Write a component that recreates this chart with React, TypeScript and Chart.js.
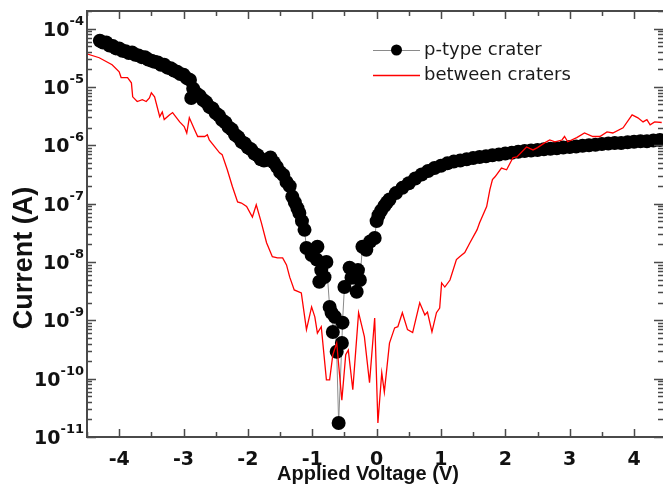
import React, { useEffect, useRef } from "react";
import { Chart, registerables } from "chart.js";

Chart.register(...registerables);

// ---- data ----
const xTickValues = [-4, -3, -2, -1, 0, 1, 2, 3, 4];
const yTickExponents = [-11, -10, -9, -8, -7, -6, -5, -4];
const legendLabels = ["p-type crater", "between craters"];
const xTitle = "Applied Voltage (V)";
const yTitle = "Current (A)";

// p-type crater: voltage (V) and log10 of current (A)
const pVoltage = [
  -4.3, -4.25, -4.2, -4.15, -4.1, -4.05, -4.0, -3.95, -3.9, -3.85, -3.8, -3.75, -3.7, -3.65, -3.6, -3.55,
  -3.5, -3.45, -3.4, -3.35, -3.3, -3.25, -3.2, -3.15, -3.1, -3.05, -3.0, -2.95, -2.9, -2.88, -2.85, -2.8,
  -2.75, -2.7, -2.65, -2.6, -2.55, -2.5, -2.45, -2.4, -2.35, -2.3, -2.25, -2.2, -2.15, -2.1, -2.05, -2.0,
  -1.95, -1.9, -1.85, -1.8, -1.75, -1.7, -1.65, -1.6, -1.55, -1.5, -1.45, -1.4, -1.35, -1.31, -1.27, -1.23,
  -1.2, -1.16, -1.12, -1.09, -1.01, -0.93, -0.92, -0.89, -0.86, -0.81, -0.78, -0.73, -0.7, -0.68, -0.65,
  -0.62, -0.59, -0.54, -0.53, -0.5, -0.42, -0.39, -0.31, -0.29, -0.26, -0.22, -0.16, -0.1, -0.03, 0.0,
  0.03, 0.07, 0.12, 0.16, 0.2, 0.3, 0.4, 0.5, 0.6, 0.7, 0.8, 0.9, 1.0, 1.1, 1.2, 1.3, 1.4, 1.5, 1.6, 1.7,
  1.8, 1.9, 2.0, 2.1, 2.2, 2.3, 2.4, 2.5, 2.6, 2.7, 2.8, 2.9, 3.0, 3.1, 3.2, 3.3, 3.4, 3.5, 3.6, 3.7, 3.8,
  3.9, 4.0, 4.1, 4.2, 4.3, 4.4,
];
const pLogCurrent = [
  -4.21, -4.24, -4.24, -4.29, -4.3, -4.34, -4.34, -4.38, -4.39, -4.42, -4.41, -4.45, -4.46, -4.49, -4.49, -4.53,
  -4.55, -4.57, -4.58, -4.62, -4.62, -4.67, -4.68, -4.72, -4.74, -4.78, -4.79, -4.85, -4.88, -5.19, -5.03, -5.11,
  -5.15, -5.22, -5.26, -5.34, -5.37, -5.45, -5.49, -5.57, -5.61, -5.69, -5.73, -5.82, -5.86, -5.94, -5.97, -6.04,
  -6.07, -6.14, -6.17, -6.24, -6.26, -6.25, -6.21, -6.29, -6.37, -6.46, -6.51, -6.63, -6.7, -6.88, -6.98, -7.08,
  -7.16, -7.3, -7.45, -7.76, -7.88, -7.96, -7.74, -8.34, -8.14, -8.26, -8.0, -8.77, -8.87, -9.2, -8.94,
  -9.54, -10.76, -9.39, -9.04, -8.43, -8.1, -8.27, -8.51, -8.14, -8.31, -7.74, -7.79, -7.65, -7.59, -7.3,
  -7.2, -7.12, -7.04, -6.98, -6.93, -6.82, -6.73, -6.65, -6.57, -6.5, -6.44, -6.39, -6.35, -6.31, -6.28, -6.26, -6.24, -6.22, -6.2, -6.19,
  -6.17, -6.16, -6.14, -6.13, -6.11, -6.1, -6.09, -6.08, -6.07, -6.06, -6.05, -6.04, -6.03, -6.02, -6.01, -6.0, -5.99, -5.98, -5.97, -5.96, -5.96,
  -5.95, -5.94, -5.93, -5.93, -5.92, -5.91,
];

// between craters: voltage (V) and log10 of current (A)
const bVoltage = [
  -4.51, -4.31, -4.11, -4.0, -3.97, -3.87, -3.81, -3.79, -3.72, -3.64, -3.58, -3.53, -3.5, -3.45, -3.37, -3.33,
  -3.3, -3.22, -3.17, -3.06, -2.99, -2.95, -2.91, -2.83, -2.78, -2.67, -2.63, -2.6, -2.44, -2.4, -2.32, -2.24,
  -2.16, -2.1, -2.02, -1.93, -1.87, -1.79, -1.71, -1.62, -1.54, -1.46, -1.4, -1.35, -1.28, -1.17, -1.09, -1.01,
  -0.96, -0.92, -0.86, -0.78, -0.73, -0.68, -0.62, -0.54, -0.48, -0.44, -0.37, -0.28, -0.19, -0.11, -0.03, 0.02,
  0.08, 0.12, 0.2, 0.28, 0.33, 0.4, 0.48, 0.56, 0.67, 0.75, 0.79, 0.86, 0.93, 0.98, 1.01, 1.06, 1.14, 1.24,
  1.29, 1.37, 1.45, 1.56, 1.6, 1.71, 1.76, 1.8, 1.84, 1.94, 2.02, 2.12, 2.18, 2.33, 2.43, 2.5, 2.61, 2.69,
  2.77, 2.88, 2.92, 2.97, 3.11, 3.23, 3.36, 3.47, 3.58, 3.67, 3.83, 3.97, 4.06, 4.14, 4.2, 4.25, 4.32, 4.43,
];
const bLogCurrent = [
  -4.43, -4.5, -4.62, -4.74, -4.84, -4.84, -4.93, -5.17, -5.25, -5.22, -5.25, -5.19, -5.1, -5.17, -5.51, -5.43,
  -5.56, -5.48, -5.44, -5.6, -5.68, -5.79, -5.53, -5.73, -5.85, -5.85, -5.82, -5.91, -6.13, -6.16, -6.42, -6.71,
  -6.97, -6.99, -7.05, -7.23, -7.02, -7.33, -7.67, -7.91, -7.93, -7.93, -8.05, -8.26, -8.48, -8.53, -9.16, -8.77,
  -8.94, -9.22, -9.11, -10.02, -10.02, -9.59, -9.39, -10.37, -9.59, -9.51, -10.19, -8.87, -9.28, -10.07, -8.96, -10.76,
  -9.9, -10.23, -9.39, -9.13, -9.11, -8.87, -9.16, -9.21, -8.7, -8.91, -8.86, -9.2, -8.87, -8.79, -8.36, -8.43, -8.31, -7.96,
  -7.91, -7.84, -7.67, -7.45, -7.33, -7.05, -6.76, -6.59, -6.54, -6.39, -6.42, -6.21, -6.2, -6.03, -6.08, -6.04, -5.96, -5.91,
  -5.94, -5.91, -5.85, -5.94, -5.87, -5.79, -5.85, -5.85, -5.77, -5.79, -5.7, -5.48, -5.53, -5.6, -5.56, -5.65, -5.6, -5.61,
];

const AXIS_COLOR = "#4a4a4a";
const TEXT_COLOR = "#111111";

const framePlugin = {
  id: "frameTicks",
  afterDatasetsDraw(chart: any) {
    const { ctx, chartArea: a, scales } = chart;
    const xs = scales.x;
    const ys = scales.y;
    ctx.save();
    ctx.strokeStyle = AXIS_COLOR;
    ctx.lineWidth = 1.5;
    ctx.beginPath();
    for (let i = -9; i <= 9; i++) {
      const v = i * 0.5;
      const px = Math.round(xs.getPixelForValue(v)) + 0.5;
      if (px < a.left || px > a.right) continue;
      const len = i % 2 === 0 ? 8 : 5;
      ctx.moveTo(px, a.bottom);
      ctx.lineTo(px, a.bottom - len);
      ctx.moveTo(px, a.top);
      ctx.lineTo(px, a.top + len);
    }
    for (const e of yTickExponents) {
      for (let m = 1; m <= 9; m++) {
        const val = m * Math.pow(10, e);
        if (val > ys.max) break;
        const py = Math.round(ys.getPixelForValue(val)) + 0.5;
        const len = m === 1 ? 9 : 5;
        ctx.moveTo(a.left, py);
        ctx.lineTo(a.left + len, py);
        ctx.moveTo(a.right, py);
        ctx.lineTo(a.right - len, py);
      }
    }
    ctx.stroke();
    // frame: left, top and bottom axis lines (the right one lies at the picture's edge)
    ctx.lineWidth = 2;
    ctx.beginPath();
    ctx.moveTo(a.right, a.top);
    ctx.lineTo(a.left, a.top);
    ctx.lineTo(a.left, a.bottom);
    ctx.lineTo(a.right, a.bottom);
    ctx.stroke();
    ctx.restore();
  },
};

const labelPlugin = {
  id: "labelsLegendTitles",
  afterDraw(chart: any) {
    const { ctx, scales } = chart;
    const ds = chart.data.datasets;
    const ys = scales.y;
    ctx.save();

    // y tick labels: 10 with a raised exponent, right-aligned
    ctx.fillStyle = TEXT_COLOR;
    ctx.textAlign = "left";
    ctx.textBaseline = "alphabetic";
    for (const t of ys.ticks) {
      const py = ys.getPixelForValue(t.value);
      const expStr = String(Math.round(Math.log10(t.value)));
      ctx.font = 'bold 13px "DejaVu Sans"';
      const ew = ctx.measureText(expStr).width;
      ctx.font = 'bold 19px "DejaVu Sans"';
      const bw = ctx.measureText("10").width;
      const right = 84;
      ctx.fillText("10", right - ew - bw, py + 7);
      ctx.font = 'bold 13px "DejaVu Sans"';
      ctx.fillText(expStr, right - ew, py - 4);
    }

    // legend
    const x0 = 373;
    const x1 = 420;
    const rows = [50, 75];
    ctx.strokeStyle = ds[0].borderColor;
    ctx.lineWidth = 1;
    ctx.beginPath();
    ctx.moveTo(x0, rows[0] + 0.5);
    ctx.lineTo(x1, rows[0] + 0.5);
    ctx.stroke();
    ctx.fillStyle = ds[0].pointBackgroundColor;
    ctx.beginPath();
    ctx.arc((x0 + x1) / 2, rows[0], 5.5, 0, Math.PI * 2);
    ctx.fill();
    ctx.strokeStyle = ds[1].borderColor;
    ctx.lineWidth = 1.3;
    ctx.beginPath();
    ctx.moveTo(x0, rows[1] + 0.5);
    ctx.lineTo(x1, rows[1] + 0.5);
    ctx.stroke();
    ctx.fillStyle = "#1a1a1a";
    ctx.font = '18px "DejaVu Sans"';
    ctx.textBaseline = "middle";
    ctx.textAlign = "left";
    ctx.fillText(ds[0].label, 424, rows[0]);
    ctx.fillText(ds[1].label, 424, rows[1]);

    // x axis title
    ctx.fillStyle = TEXT_COLOR;
    ctx.font = 'bold 20px "Liberation Sans"';
    ctx.textAlign = "center";
    ctx.fillText(xTitle, 368, 474);

    // y axis title
    ctx.translate(25, 258);
    ctx.rotate(-Math.PI / 2);
    ctx.font = 'bold 27px "Liberation Sans"';
    ctx.textAlign = "center";
    ctx.fillText(yTitle, 0, 0);
    ctx.restore();
  },
};

export default function App() {
  const ref = useRef<HTMLCanvasElement | null>(null);

  useEffect(() => {
    if (!ref.current) return;
    const chart = new Chart(ref.current, {
      type: "line",
      data: {
        datasets: [
          {
            label: legendLabels[0],
            data: pVoltage.map((v, i) => ({ x: v, y: Math.pow(10, pLogCurrent[i]) })),
            borderColor: "#8a8a8a",
            borderWidth: 1,
            pointRadius: 7,
            pointBackgroundColor: "#000000",
            pointBorderColor: "#000000",
            pointBorderWidth: 0,
            pointHoverRadius: 7,
            tension: 0,
            order: 1,
          },
          {
            label: legendLabels[1],
            data: bVoltage.map((v, i) => ({ x: v, y: Math.pow(10, bLogCurrent[i]) })),
            borderColor: "#ff0000",
            borderWidth: 1.3,
            pointRadius: 0,
            tension: 0,
            order: 0,
          },
        ],
      },
      options: {
        animation: false,
        responsive: false,
        events: [],
        layout: { autoPadding: false, padding: { top: 11, right: 0, left: 0, bottom: 0 } },
        plugins: { legend: { display: false }, tooltip: { enabled: false } },
        scales: {
          x: {
            type: "linear",
            min: -4.5,
            max: 4.45,
            grid: { display: false, drawTicks: false },
            border: { display: false },
            afterBuildTicks: (s: any) => {
              s.ticks = xTickValues.map((v) => ({ value: v }));
            },
            afterFit: (s: any) => {
              s.height = 48;
              s.paddingLeft = 0;
              s.paddingRight = 0;
            },
            ticks: {
              autoSkip: false,
              maxRotation: 0,
              padding: 12,
              color: TEXT_COLOR,
              font: { family: '"DejaVu Sans"', size: 19, weight: "bold" },
              callback: (v: any) => String(v),
            },
            title: { display: false, text: xTitle },
          },
          y: {
            type: "logarithmic",
            min: 1e-11,
            max: 2e-4,
            grid: { display: false, drawTicks: false },
            border: { display: false },
            afterBuildTicks: (s: any) => {
              s.ticks = yTickExponents.map((e) => ({ value: Math.pow(10, e) }));
            },
            afterFit: (s: any) => {
              s.width = 87;
              s.paddingTop = 0;
              s.paddingBottom = 0;
            },
            ticks: { display: false },
            title: { display: false, text: yTitle },
          },
        },
      },
      plugins: [framePlugin, labelPlugin],
    });
    return () => chart.destroy();
  }, []);

  return (
    <div style={{ position: "fixed", left: 0, top: 0, width: 663, height: 485, background: "#fff" }}>
      <canvas ref={ref} width={663} height={485} style={{ display: "block" }} />
    </div>
  );
}
